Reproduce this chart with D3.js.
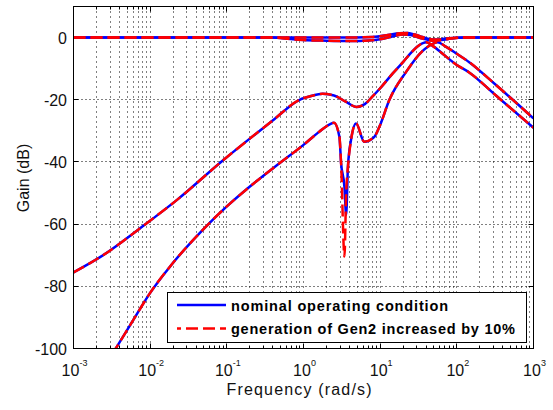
<!DOCTYPE html>
<html><head><meta charset="utf-8">
<script src="https://cdn.jsdelivr.net/npm/d3@7"></script>
<style>
html,body{margin:0;padding:0;background:#fff;}
svg{display:block;font-family:"Liberation Sans",Arial,Helvetica,sans-serif;}
</style></head>
<body>
<svg id="chart" width="553" height="410"></svg>
<script>
// ---- data ----
const xTickExponents = [-3, -2, -1, 0, 1, 2, 3];
const yTicks = [0, -20, -40, -60, -80, -100];
const legendLabels = ["nominal operating condition", "generation of Gen2 increased by 10%"];

const freqA1 = [0.001, 3.16, 8, 12.6, 17.8, 22.4, 28.2, 35.5, 44.7, 56.2, 79.4, 126, 1000];
const gainA1 = [0, 0, 0.2, 0.8, 1.4, 1.5, 1.0, 0.2, -0.5, -0.6, -0.2, 0, 0];

const freqA2 = [0.001, 0.4, 0.5, 0.63, 1, 2, 4, 7.1, 10, 14.1, 20, 25, 35.5, 50, 63, 89, 126, 1000];
const gainA2 = [0, 0, -0.1, -0.4, -0.8, -1.0, -1.1, -0.9, -0.5, 0.3, 1.0, 0.8, -0.3, -1.0, -0.8, -0.2, 0, 0];

const freqB = [0.001, 0.0025, 0.0079, 0.0224, 0.091, 0.19, 0.4, 0.89, 1.26, 1.78, 2.5, 3.55, 4.9, 6.3, 7.9, 10, 14.5, 20, 25, 31.6, 40, 50, 63, 100, 145, 316, 1000];
const gainB = [-75.5, -69.8, -60.8, -52.2, -39.3, -32.9, -26.6, -20.0, -18.8, -18.1, -18.6, -20.6, -22.3, -21.4, -19.0, -16.3, -11.6, -7.8, -5.0, -2.6, -1.5, -2.9, -4.9, -8.8, -11.2, -18.4, -29];

const freqC = [0.00316, 0.0037, 0.006, 0.01, 0.0182, 0.05, 0.1, 0.2, 0.5, 1, 1.62, 2.2, 2.5, 2.94, 3.09, 3.42, 3.6, 3.8, 4.17, 4.85, 6.2, 8.4, 9.8, 13.2, 21.7, 35, 48.4, 56, 70.8, 100, 145, 316, 1000];
const gainCNominal = [-102, -99.3, -90.9, -82.1, -73.6, -61.5, -54.3, -47.9, -40.2, -34.5, -30.2, -27.9, -27.4, -31.9, -40.3, -48, -57, -41.5, -32.9, -27.6, -33.5, -31.9, -28.6, -20, -11.1, -4.5, -2, -1.5, -2.8, -5.2, -7.9, -15, -26];
const gainCGen2 = [-102, -99.3, -90.9, -82.1, -73.6, -61.5, -54.3, -47.9, -40.2, -34.5, -30.2, -27.9, -27.4, -31.9, -40.3, -70.4, -50, -41.5, -32.9, -27.6, -33.5, -31.9, -28.6, -20, -11.1, -4.5, -2, -1.5, -2.8, -5.2, -7.9, -15, -26];

// ---- chart ----
const svg = d3.select("#chart");
const L = 73.5, R = 533.5, T = 6.5, B = 348.5;
const x = d3.scaleLog().domain([1e-3, 1e3]).range([L, R]);
const y = d3.scaleLinear().domain([-100, 10]).range([B, T]);
const snap = v => Math.round(v - 0.5) + 0.5;

svg.append("rect").attr("x", 0).attr("y", 0).attr("width", 553).attr("height", 410).attr("fill", "#fff");

// grid
const minorVals = [];
for (let d = -3; d < 3; d++) for (let k = 1; k <= 9; k++) minorVals.push(k * Math.pow(10, d));
const gridG = svg.append("g");
gridG.selectAll("line.v").data(minorVals.filter(v => v > 1e-3)).enter().append("line")
  .attr("x1", d => snap(x(d))).attr("x2", d => snap(x(d))).attr("y1", T).attr("y2", B)
  .attr("stroke", "#000").attr("stroke-width", 1).attr("stroke-dasharray", "1,4");
gridG.selectAll("line.h").data(yTicks.filter(v => v > -100)).enter().append("line")
  .attr("x1", L).attr("x2", R).attr("y1", d => snap(y(d))).attr("y2", d => snap(y(d)))
  .attr("stroke", "#000").attr("stroke-width", 1).attr("stroke-dasharray", "1,3");

// ticks (inward)
const tickG = svg.append("g").attr("stroke", "#000").attr("stroke-width", 1);
minorVals.concat([1000]).forEach(v => {
  const isMajor = Math.abs(Math.log10(v) - Math.round(Math.log10(v))) < 1e-9;
  const len = isMajor ? 5 : 3;
  const xv = snap(x(v));
  tickG.append("line").attr("x1", xv).attr("x2", xv).attr("y1", B).attr("y2", B - len);
  tickG.append("line").attr("x1", xv).attr("x2", xv).attr("y1", T).attr("y2", T + len);
});
yTicks.forEach(v => {
  const yv = snap(y(v));
  tickG.append("line").attr("x1", L).attr("x2", L + 5).attr("y1", yv).attr("y2", yv);
  tickG.append("line").attr("x1", R).attr("x2", R - 5).attr("y1", yv).attr("y2", yv);
});

// curves
const clip = svg.append("clipPath").attr("id", "plotclip");
clip.append("rect").attr("x", L).attr("y", T).attr("width", R - L).attr("height", B - T);
const line = d3.line().x(d => x(d[0])).y(d => y(d[1])).curve(d3.curveMonotoneX);
const zip = (f, g) => f.map((v, i) => [v, g[i]]);

const nominal = [zip(freqA1, gainA1), zip(freqA2, gainA2), zip(freqB, gainB), zip(freqC, gainCNominal)];
const gen2 = [zip(freqA1, gainA1), zip(freqA2, gainA2), zip(freqB, gainB), zip(freqC, gainCGen2)];

const curveG = svg.append("g").attr("clip-path", "url(#plotclip)");
curveG.selectAll("path.nom").data(nominal).enter().append("path")
  .attr("d", line).attr("fill", "none").attr("stroke", "#0000ff").attr("stroke-width", 2.5);
curveG.selectAll("path.gen").data(gen2).enter().append("path")
  .attr("d", line).attr("fill", "none").attr("stroke", "#ff0000").attr("stroke-width", 2.5)
  .attr("stroke-dasharray", "12,5");

// box
svg.append("rect").attr("x", L).attr("y", T).attr("width", R - L).attr("height", B - T)
  .attr("fill", "none").attr("stroke", "#000").attr("stroke-width", 1);

// tick labels
const lab = svg.append("g").attr("fill", "#111").attr("font-size", 16);
xTickExponents.forEach(e => {
  const t = lab.append("text").attr("x", x(Math.pow(10, e)) + 1).attr("y", 376).attr("text-anchor", "middle");
  t.append("tspan").text("10");
  t.append("tspan").attr("dy", -10).attr("font-size", 9).text(String(e));
});
yTicks.forEach(v => {
  lab.append("text").attr("x", 67).attr("y", y(v) + 6).attr("text-anchor", "end").text(String(v));
});

// axis labels
svg.append("text").attr("x", 299).attr("y", 395).attr("text-anchor", "middle").attr("font-size", 16)
  .attr("fill", "#111").attr("textLength", 145).attr("lengthAdjust", "spacing").text("Frequency (rad/s)");
svg.append("text").attr("transform", "translate(29,178) rotate(-90)").attr("text-anchor", "middle")
  .attr("font-size", 16).attr("fill", "#111").text("Gain (dB)");

// legend
const lg = svg.append("g");
lg.append("rect").attr("x", 167.5).attr("y", 292.5).attr("width", 359).attr("height", 50)
  .attr("fill", "#fff").attr("stroke", "#000").attr("stroke-width", 1);
lg.append("line").attr("x1", 177).attr("x2", 226).attr("y1", 305).attr("y2", 305)
  .attr("stroke", "#0000ff").attr("stroke-width", 2.5);
lg.append("line").attr("x1", 177).attr("x2", 226).attr("y1", 328.5).attr("y2", 328.5)
  .attr("stroke", "#ff0000").attr("stroke-width", 2.5).attr("stroke-dasharray", "12,5").attr("stroke-dashoffset", 8);
lg.append("text").attr("x", 231).attr("y", 310.5).attr("font-size", 14.5).attr("font-weight", "bold")
  .attr("fill", "#000").attr("textLength", 217).attr("lengthAdjust", "spacing").text(legendLabels[0]);
lg.append("text").attr("x", 231).attr("y", 334).attr("font-size", 14.5).attr("font-weight", "bold")
  .attr("fill", "#000").attr("textLength", 284).attr("lengthAdjust", "spacing").text(legendLabels[1]);
</script>
</body></html>
